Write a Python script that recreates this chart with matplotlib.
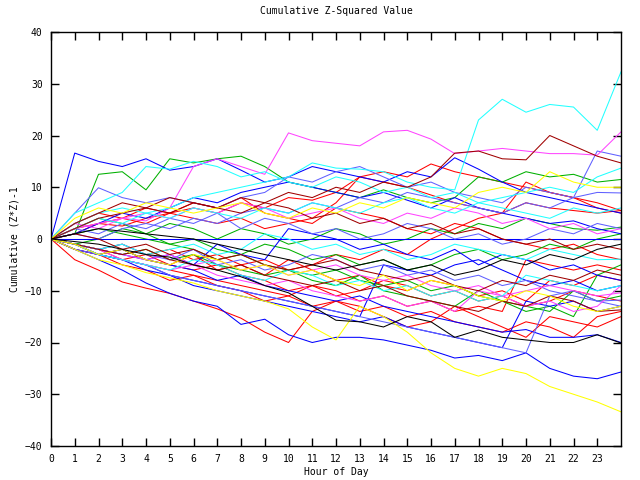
import numpy as np
import matplotlib
matplotlib.use("Agg")
import matplotlib.pyplot as plt

hours = np.arange(25)

red_lines = [
    [0, -4, -6, -8.3, -9.5, -10.5, -12, -13.5, -15.3, -18, -20, -14, -12, -13, -15, -17, -16, -13, -15, -17, -19, -15, -16, -17, -15],
    [0, 2, 3, 2.5, 4, 5, 6, 5, 7, 6, 8, 7.5, 9, 12, 13, 12, 14.5, 13, 12, 11, 10, 9, 8, 7, 5.5],
    [0, 1, 3, 4, 3, 5, 4, 3, 4, 2, 3, 4, 7, 12, 11, 10, 8.5, 7, 6, 5, 7, 6, 5.5, 5, 5.5],
    [0, -1, -2, -1, -3, -2, -4, -3, -5, -4, -6, -5, -3, -4, -2, -3, 0, 2, 4, 5, 11, 9, 8, 6, 5],
    [0, -2, -3, -2, -4, -5, -3, -6, -5, -7, -4, -6, -8, -7, -9, -10, -8, -9, -11, -10, -12, -8, -9, -7, -8],
    [0, -1, -3, -4, -5, -6, -7, -8, -9, -10, -11, -9, -10, -12, -11, -13, -12, -14, -13, -14, -4, -5, -6, -5, -6],
    [0, 3, 5, 4, 6, 5, 7, 6, 8, 5, 4, 3, 6, 5, 4, 2, 1, 3, 2, 0, -1, -2, -1, -3, -4],
    [0, -2, -3, -5, -6, -8, -7, -9, -10, -12, -11, -13, -12, -14, -13, -15, -14, -16, -17, -18, -16, -17, -19, -15, -14],
    [0, -1, -2, -4, -3, -5, -6, -5, -7, -8, -10, -9, -11, -10, -8, -9, -11, -10, -12, -11, -13, -12, -10, -11, -12],
]
green_lines = [
    [0, 1, 12.5, 13, 9.5, 15.5, 14.7, 15.5, 16, 14, 11, 10, 9, 8, 9.5, 8, 7, 8, 12, 11, 13, 12, 12.5, 11, 11.5],
    [0, 2, 4, 3, 1, 3, 2, 0, 2, 1, -1, 0, 2, 1, -1, 0, 2, 1, 3, 2, 4, 3, 2, 1.7, 2.3],
    [0, -1, -2, -3, -2, -4, -3, -5, -6, -7, -6, -8, -9, -7, -10, -11, -12, -13, -10, -12, -13, -14, -10, -12, -11],
    [0, 1, 2, 1, 0, -1, -2, -4, -3, -5, -6, -7, -6, -8, -9, -8, -10, -9, -11, -12, -14, -13, -15, -7, -5],
    [0, -1, 0, 2, 1, -1, 0, -2, -3, -1, -2, -4, -3, -5, -4, -6, -5, -3, -2, -4, -3, -1, -2, 0, 1],
]
blue_lines = [
    [0, 16.6, 15, 14, 15.5, 13.3, 14, 15.5, 13.3, 11, 12, 14, 13, 12, 11, 13, 12, 15.7, 13.5, 11, 9, 8, 7, 6, 5],
    [0, -2, -4, -6, -8.5, -10.5, -12, -13, -16.5, -15.5, -18.5, -20, -19, -19, -19.5, -20.5, -21.5, -23, -22.5, -23.5, -22, -25, -26.5, -27, -25.7],
    [0, -1, -2, -3, -4, -5, -6, -8, -7, -9, -10, -11, -12, -11, -13, -14, -15, -16, -17, -18, -17.5, -19, -19, -18.5, -20],
    [0, -2, -3, -4, -6, -7, -9, -10, -11, -12, -13, -14, -15, -16, -15, -17, -18, -19, -20, -21, -12, -13, -12, -14, -13],
    [0, -1, -3, -2, -4, -3, -5, -1, -3, -4, 2, 1, 0, -2, -1, -3, -4, -2, -5, -3, -4, -6, -5, -7, -8],
    [0, 1, 3, 5, 4, 6, 8, 7, 9, 10, 11, 10, 9, 8, 9, 7.5, 6, 8, 6, 5, 4, 3, 3.5, 2, 1],
    [0, -1, -3, -4, -5, -7, -8, -9, -10, -11, -12, -13, -14, -15, -5, -6, -7, -5, -4, -6, -8, -9, -8, -10, -9],
    [0] * 25,
]
slate_lines = [
    [0, 5, 9.9, 8, 7, 8, 7, 6, 8, 9, 12, 11, 13, 14, 12, 10, 11, 9, 8, 7, 10, 9, 8, 17, 16],
    [0, -1, -2, -1, -3, -4, -2, -5, -4, -6, -5, -3, -4, -6, -5, -7, -6, -8, -7, -9, -8, -10, -11, -12, -11.8],
    [0, -2, -3, -4, -5, -7, -8, -9, -10, -11, -12, -13, -14, -15, -16, -17, -18, -19, -20, -21, -22, -11, -10, -12, -13],
    [0, 2, 1, 3, 2, 4, 3, 5, 2, 4, 3, 1, 2, 0, 1, 3, 2, 0, 1, -1, 0, 2, 1, 3, 2],
    [0, 1, 0, 2, 3, 2, 4, 3, 5, 6, 5, 7, 6, 8, 7, 9, 8, 7, 6, 5, 7, 6, 8, 9, 8.9],
]
magenta_lines = [
    [0, 2, 3, 4, 3.5, 6, 14, 15.5, 14, 12.5, 20.5, 19, 18.5, 18, 20.7, 21, 19.3, 16.5, 17, 17.5, 17, 16.5, 16.5, 16.2, 20.7],
    [0, -1, -2, -3, -4, -3, -5, -4, -6, -5, -7, -6, -5, -7, -8, -7, -9, -10, -9, -11, -10, -9, -10, -11, -10.4],
    [0, -1, -2, -4, -5, -6, -5, -7, -8, -9, -8, -10, -11, -12, -11, -13, -12, -14, -10, -11, -13, -12, -14, -13, -9],
    [0, 3, 2, 4, 5, 4, 6, 5, 7, 6, 4, 5, 6, 4, 3, 5, 4, 6, 5, 3, 4, 2, 3, 1, 2],
]
cyan_lines = [
    [0, 3, 5, 6, 5, 6, 8, 9, 10, 11, 12, 14.7, 13.7, 13.5, 13, 11, 10, 9.5, 23, 27, 24.5, 26, 25.5, 21, 32.3],
    [0, 5, 7, 9, 14, 13.5, 15, 14, 12, 13, 11, 10, 12, 11, 9, 10, 8, 9, 7, 8, 9, 10, 9, 12, 13.7],
    [0, -1, -2, -1, -3, -2, -1, -3, -2, 1, 0, -2, -1, -3, -2, -4, -3, -1, -2, -3, -4, -2, -3, -4, -3.9],
    [0, -1, -3, -4, -5, -6, -4, -5, -7, -8, -6, -7, -9, -8, -10, -9, -11, -10, -12, -11, -7, -8, -9, -10, -9],
    [0, 2, 4, 3, 5, 4, 6, 5, 4, 6, 5, 7, 6, 5, 7, 8, 6, 5, 7, 6, 5, 4, 6, 5, 6],
]
darkred_lines = [
    [0, 2, 4, 5, 6, 5, 7, 6, 8, 7, 9, 8, 10, 9, 11, 10, 12, 16.6, 17, 15.5, 15.3, 20, 18, 16, 14.7],
    [0, 3, 5, 7, 6, 8, 7, 6, 5, 7, 6, 4, 5, 3, 4, 2, 3, 1, 2, 0, -1, 0, -2, -1, -2],
    [0, -1, -2, -3, -2, -4, -5, -6, -5, -7, -8, -9, -8, -10, -9, -11, -12, -13, -14, -12, -13, -11, -12, -14, -13.7],
    [0, 1, 0, -2, -1, -3, -2, -4, -3, -5, -6, -5, -4, -6, -7, -8, -7, -9, -10, -8, -9, -7, -8, -6, -7],
]
yellow_lines = [
    [0, -2, -4, -5, -6.5, -7.5, -8.5, -10, -11, -12, -13.5, -17, -19.5, -13, -15, -18, -22, -25, -26.5, -25, -26, -28.5, -30, -31.5, -33.4],
    [0, 4, 6, 5, 7, 6, 5, 6, 7, 5, 4, 6, 5, 7, 6, 8, 7, 6, 9, 10, 9, 13, 11, 10, 10],
    [0, -1, -3, -2, -4, -5, -3, -4, -6, -5, -7, -6, -8, -9, -7, -10, -8, -9, -11, -12, -10, -11, -13, -14, -13],
]
black_lines = [
    [0, -0.5, -1, -2, -3, -3.5, -5, -6, -7.3, -9, -10.4, -13, -15.7, -16, -17, -15, -16, -19, -17.6, -19, -19.5, -20, -20, -18.5, -20.1],
    [0, 1, 2, 1.5, 1, 0.5, 0, -1, -2, -3, -4, -5, -6, -5, -4, -6, -5, -7, -6, -4, -5, -3, -4, -2, -1],
]

groups = [
    (red_lines, "#ff0000"),
    (green_lines, "#00b000"),
    (blue_lines, "#0000ff"),
    (slate_lines, "#6060ff"),
    (magenta_lines, "#ff44ff"),
    (cyan_lines, "#22ffff"),
    (darkred_lines, "#a00000"),
    (yellow_lines, "#ffff00"),
    (black_lines, "#000000"),
]

plt.rcParams["font.family"] = "DejaVu Sans Mono"
fig = plt.figure(figsize=(6.4, 4.8), dpi=100)
ax = fig.add_axes([51 / 640, 34 / 480, 570 / 640, 414 / 480])

for lines, color in groups:
    for vals in lines:
        ax.plot(hours, vals, color=color, linewidth=0.75)

ax.set_xlim(0, 24)
ax.set_ylim(-40, 40)
ax.set_xticks(range(24))
ax.set_yticks(range(-40, 41, 10))
ax.tick_params(direction="in", length=6, width=1, top=True, right=True,
               labelsize=7, pad=6)
for s in ax.spines.values():
    s.set_linewidth(1)

ax.set_title("Cumulative Z-Squared Value", fontsize=7, pad=13)
ax.set_xlabel("Hour of Day", fontsize=7, labelpad=2)
ax.set_ylabel("Cumulative (Z*Z)-1", fontsize=7, labelpad=4)

fig.savefig("out.png", dpi=100)
